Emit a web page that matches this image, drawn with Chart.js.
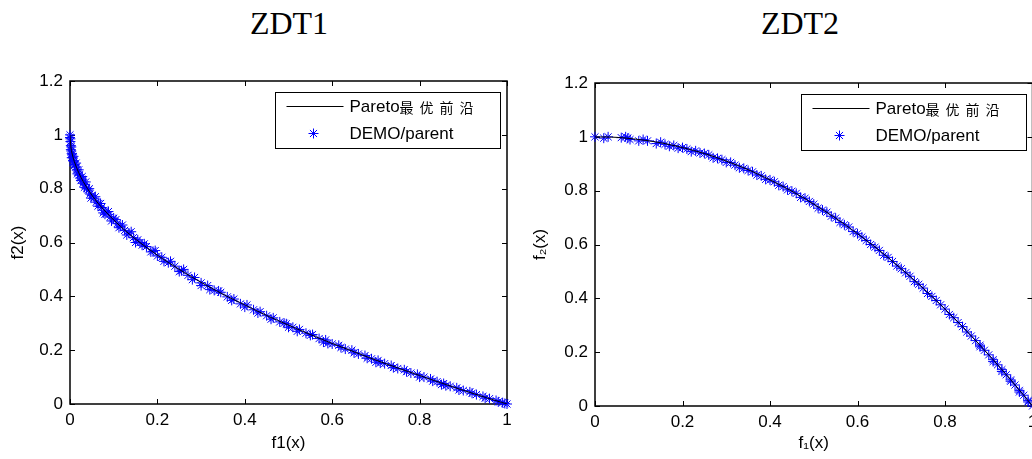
<!DOCTYPE html>
<html>
<head>
<meta charset="utf-8">
<script src="https://cdn.jsdelivr.net/npm/chart.js@4"></script>
<style>
  body { margin: 0; width: 1032px; height: 459px; overflow: hidden; background: #fff; position: relative; }
  .ttl { position: absolute; top: 7px; width: 200px; text-align: center; font: 32px/32px "Liberation Serif", serif; color: #000; }
  canvas { position: absolute; }
</style>
</head>
<body>
<div class="ttl" style="left:189px">ZDT1</div>
<div class="ttl" style="left:700px">ZDT2</div>
<canvas id="c1" width="520" height="399" style="left:0;top:60px"></canvas>
<canvas id="c2" width="540" height="399" style="left:520px;top:60px"></canvas>
<script>
// legend + axis labels
const legendLabels = ['Pareto最优前沿', 'DEMO/parent'];
const xTitles = ['f1(x)', 'f₁(x)'];
const yTitles = ['f2(x)', 'f₂(x)'];

// ZDT1 pareto front
const front1X = [0, 0.002, 0.005, 0.01, 0.02, 0.03, 0.05, 0.07, 0.1, 0.13, 0.16, 0.2, 0.25, 0.3, 0.35, 0.4, 0.45, 0.5, 0.55, 0.6, 0.65, 0.7, 0.75, 0.8, 0.85, 0.9, 0.95, 1];
const front1Y = [1, 0.955, 0.929, 0.9, 0.859, 0.827, 0.776, 0.735, 0.684, 0.639, 0.6, 0.553, 0.5, 0.452, 0.408, 0.368, 0.329, 0.293, 0.258, 0.225, 0.194, 0.163, 0.134, 0.106, 0.078, 0.051, 0.025, 0];

// ZDT1 DEMO/parent stars
const demo1X = [0, 0, 0.001, 0.002, 0.002, 0.003, 0.004, 0.005, 0.006, 0.007, 0.009, 0.011, 0.013, 0.016, 0.018, 0.021, 0.024, 0.027, 0.03, 0.034, 0.038, 0.042, 0.046, 0.05, 0.055, 0.06, 0.066, 0.072, 0.078, 0.08, 0.085, 0.092, 0.1, 0.108, 0.116, 0.125, 0.135, 0.145, 0.15, 0.155, 0.165, 0.175, 0.19, 0.2, 0.21, 0.225, 0.24, 0.255, 0.27, 0.285, 0.3, 0.3, 0.315, 0.33, 0.345, 0.36, 0.375, 0.39, 0.405, 0.42, 0.435, 0.45, 0.465, 0.48, 0.495, 0.5, 0.51, 0.525, 0.54, 0.555, 0.57, 0.58, 0.585, 0.6, 0.615, 0.63, 0.645, 0.66, 0.675, 0.69, 0.7, 0.705, 0.72, 0.735, 0.75, 0.765, 0.78, 0.795, 0.81, 0.825, 0.84, 0.85, 0.855, 0.87, 0.885, 0.9, 0.915, 0.93, 0.945, 0.96, 0.975, 0.99, 0.995, 1,
  0.001, 0.003, 0.004, 0.008, 0.01, 0.014, 0.017, 0.02, 0.025, 0.028, 0.033, 0.036, 0.044, 0.048, 0.058, 0.064, 0.07, 0.076, 0.088, 0.095, 0.105, 0.112, 0.12, 0.13, 0.14, 0.16, 0.17, 0.185, 0.195, 0.215, 0.23, 0.25, 0.26, 0.28, 0.32, 0.34, 0.37, 0.4, 0.43, 0.46, 0.49, 0.52, 0.55, 0.59, 0.62, 0.65, 0.68, 0.71, 0.74, 0.77, 0.8, 0.83, 0.86, 0.89, 0.92, 0.95, 0.98];
const demo1Y = [1, 0.99, 0.975, 0.96, 0.945, 0.94, 0.93, 0.925, 0.915, 0.905, 0.9, 0.89, 0.88, 0.87, 0.862, 0.85, 0.84, 0.835, 0.82, 0.815, 0.8, 0.795, 0.78, 0.775, 0.765, 0.75, 0.745, 0.73, 0.72, 0.705, 0.71, 0.695, 0.69, 0.67, 0.66, 0.645, 0.635, 0.618, 0.6, 0.61, 0.59, 0.585, 0.567, 0.55, 0.545, 0.525, 0.512, 0.495, 0.478, 0.47, 0.45, 0.44, 0.44, 0.422, 0.415, 0.398, 0.39, 0.372, 0.368, 0.35, 0.343, 0.328, 0.32, 0.305, 0.298, 0.285, 0.285, 0.277, 0.263, 0.258, 0.243, 0.23, 0.238, 0.223, 0.218, 0.204, 0.2, 0.186, 0.18, 0.168, 0.155, 0.162, 0.15, 0.143, 0.132, 0.127, 0.115, 0.11, 0.1, 0.093, 0.083, 0.072, 0.076, 0.066, 0.06, 0.05, 0.045, 0.035, 0.028, 0.02, 0.013, 0.005, 0.002, 0,
  0.985, 0.955, 0.915, 0.92, 0.885, 0.895, 0.855, 0.87, 0.83, 0.845, 0.805, 0.825, 0.8, 0.765, 0.77, 0.735, 0.745, 0.71, 0.715, 0.68, 0.685, 0.655, 0.665, 0.628, 0.64, 0.6, 0.595, 0.565, 0.57, 0.53, 0.53, 0.492, 0.5, 0.462, 0.425, 0.42, 0.385, 0.36, 0.338, 0.315, 0.3, 0.27, 0.255, 0.225, 0.21, 0.19, 0.17, 0.152, 0.135, 0.12, 0.1, 0.085, 0.068, 0.052, 0.04, 0.022, 0.008];

// ZDT2 pareto front
const front2X = [0, 0.05, 0.1, 0.15, 0.2, 0.25, 0.3, 0.35, 0.4, 0.45, 0.5, 0.55, 0.6, 0.65, 0.7, 0.75, 0.8, 0.85, 0.9, 0.95, 1];
const front2Y = [1, 0.998, 0.99, 0.978, 0.96, 0.938, 0.91, 0.878, 0.84, 0.798, 0.75, 0.698, 0.64, 0.578, 0.51, 0.438, 0.36, 0.278, 0.19, 0.098, 0];

// ZDT2 DEMO/parent stars
const demo2X = [0, 0.03, 0.06, 0.075, 0.08, 0.11, 0.12, 0.15, 0.16, 0.18, 0.2, 0.21, 0.23, 0.25, 0.26, 0.28, 0.29, 0.31, 0.32, 0.34, 0.36, 0.38, 0.4, 0.41, 0.43, 0.45, 0.46, 0.48, 0.49, 0.5, 0.52, 0.53, 0.55, 0.57, 0.58, 0.6, 0.61, 0.62, 0.64, 0.65, 0.67, 0.68, 0.7, 0.71, 0.72, 0.74, 0.75, 0.77, 0.78, 0.79, 0.8, 0.82, 0.83, 0.84, 0.86, 0.87, 0.88, 0.89, 0.9, 0.91, 0.92, 0.93, 0.94, 0.95, 0.96, 0.97, 0.98, 0.99, 1,
  0.02, 0.07, 0.1, 0.14, 0.17, 0.19, 0.22, 0.24, 0.27, 0.3, 0.33, 0.35, 0.37, 0.39, 0.42, 0.44, 0.47, 0.51, 0.54, 0.56, 0.59, 0.63, 0.66, 0.69, 0.73, 0.76, 0.81, 0.85, 0.88, 0.91, 0.93, 0.95, 0.97, 0.99];
const demo2Y = [1, 1, 0.997, 0.995, 0.99, 0.99, 0.985, 0.98, 0.972, 0.968, 0.96, 0.955, 0.948, 0.938, 0.933, 0.92, 0.915, 0.905, 0.895, 0.883, 0.87, 0.855, 0.84, 0.833, 0.815, 0.798, 0.79, 0.772, 0.76, 0.75, 0.728, 0.72, 0.698, 0.673, 0.665, 0.64, 0.628, 0.615, 0.59, 0.578, 0.552, 0.537, 0.51, 0.495, 0.482, 0.452, 0.438, 0.407, 0.392, 0.376, 0.36, 0.328, 0.31, 0.295, 0.26, 0.243, 0.226, 0.207, 0.19, 0.172, 0.153, 0.135, 0.116, 0.097, 0.078, 0.058, 0.04, 0.02, 0,
  0.995, 1, 0.985, 0.975, 0.965, 0.958, 0.945, 0.94, 0.922, 0.905, 0.885, 0.875, 0.858, 0.842, 0.82, 0.803, 0.775, 0.735, 0.705, 0.682, 0.648, 0.6, 0.56, 0.52, 0.462, 0.418, 0.34, 0.275, 0.22, 0.165, 0.128, 0.092, 0.052, 0.015];

const xTicks = [0, 0.2, 0.4, 0.6, 0.8, 1];
const yTicks = [0, 0.2, 0.4, 0.6, 0.8, 1, 1.2];

function pts(xs, ys) {
  return xs.map((x, i) => ({ x: x, y: ys[i] }));
}

// matlab prints 1 not 1.0
function tickText(v) {
  return String(Math.round(v * 10) / 10);
}

const FONT = '"Liberation Sans", Arial, sans-serif';

// matlab style box with inward ticks, plus the legend in the upper right corner
const matlabBox = {
  id: 'matlabBox',
  beforeDatasetsDraw(chart) {
    const { ctx, chartArea: a, scales } = chart;
    ctx.save();
    ctx.strokeStyle = '#000';
    ctx.lineWidth = 1;
    const len = 5;
    ctx.beginPath();
    xTicks.forEach(v => {
      const px = Math.round(scales.x.getPixelForValue(v)) + 0.5;
      ctx.moveTo(px, a.bottom); ctx.lineTo(px, a.bottom - len);
      ctx.moveTo(px, a.top); ctx.lineTo(px, a.top + len);
    });
    yTicks.forEach(v => {
      const py = Math.round(scales.y.getPixelForValue(v)) + 0.5;
      ctx.moveTo(a.left, py); ctx.lineTo(a.left + len, py);
      ctx.moveTo(a.right, py); ctx.lineTo(a.right - len, py);
    });
    ctx.stroke();
    ctx.lineWidth = 1.5;
    ctx.strokeRect(a.left, a.top, a.right - a.left, a.bottom - a.top);
    ctx.restore();
  },
  afterDraw(chart) {
    const { ctx, chartArea: a } = chart;
    const w = 225, h = 56;
    const x0 = Math.round(a.right - 7 - w) + 0.5, y0 = Math.round(a.top + 11) + 0.5;
    ctx.save();
    ctx.fillStyle = '#fff';
    ctx.fillRect(x0, y0, w, h);
    ctx.strokeStyle = '#000';
    ctx.lineWidth = 1;
    ctx.strokeRect(x0, y0, w, h);
    // line sample
    ctx.beginPath();
    ctx.moveTo(x0 + 11, y0 + 14); ctx.lineTo(x0 + 68, y0 + 14);
    ctx.stroke();
    // star sample
    ctx.strokeStyle = '#0000ff';
    Chart.helpers.drawPoint(ctx, { pointStyle: 'star', radius: 5, borderWidth: 1, rotation: 0 }, x0 + 38, y0 + 41);
    // texts
    ctx.fillStyle = '#000';
    ctx.textBaseline = 'middle';
    let tx = x0 + 74;
    for (const ch of legendLabels[0]) {
      if (ch.charCodeAt(0) > 255) {
        ctx.font = '14px "Noto Sans CJK SC", sans-serif';
        ctx.fillText(ch, tx, y0 + 15);
        tx += 20;
      } else {
        ctx.font = '17px ' + FONT;
        ctx.fillText(ch, tx, y0 + 15);
        tx += ctx.measureText(ch).width;
      }
    }
    ctx.font = '17px ' + FONT;
    ctx.fillText(legendLabels[1], x0 + 74, y0 + 42);
    ctx.restore();
  }
};

function makeChart(id, frontX, frontY, demoX, demoY, xTitle, yTitle, dims) {
  return new Chart(document.getElementById(id), {
    type: 'scatter',
    data: {
      datasets: [
        {
          label: legendLabels[0],
          data: pts(frontX, frontY),
          showLine: true,
          borderColor: '#000',
          borderWidth: 1,
          pointRadius: 0,
          tension: 0.3
        },
        {
          label: legendLabels[1],
          data: pts(demoX, demoY),
          pointStyle: 'star',
          pointRadius: 5,
          borderColor: '#0000ff',
          borderWidth: 1,
          backgroundColor: '#0000ff',
          clip: false
        }
      ]
    },
    options: {
      responsive: false,
      animation: false,
      events: [],
      layout: { padding: { left: 0, top: dims.top, right: dims.right, bottom: 0 } },
      plugins: { legend: { display: false }, tooltip: { enabled: false } },
      scales: {
        x: {
          type: 'linear', min: 0, max: 1,
          grid: { display: false, drawTicks: false },
          border: { display: false },
          afterBuildTicks: s => { s.ticks = xTicks.map(v => ({ value: v })); },
          afterFit: s => { s.height = dims.xh; s.paddingLeft = 0; s.paddingRight = 0; },
          ticks: { color: '#000', padding: 6, maxRotation: 0, autoSkip: false, callback: tickText, font: { size: 17, family: FONT } },
          title: { display: true, text: xTitle, color: '#000', padding: { top: 0, bottom: 5 }, font: { size: 17, family: FONT } }
        },
        y: {
          type: 'linear', min: 0, max: 1.2,
          grid: { display: false, drawTicks: false },
          border: { display: false },
          afterBuildTicks: s => { s.ticks = yTicks.map(v => ({ value: v })); },
          afterFit: s => { s.width = dims.yw; s.paddingTop = 0; s.paddingBottom = 0; },
          ticks: { color: '#000', padding: 7, autoSkip: false, callback: tickText, font: { size: 17, family: FONT } },
          title: { display: true, text: yTitle, color: '#000', padding: { top: dims.yt, bottom: 0 }, font: { size: 17, family: FONT } }
        }
      }
    },
    plugins: [matlabBox]
  });
}

makeChart('c1', front1X, front1Y, demo1X, demo1Y, xTitles[0], yTitles[0], { top: 21, right: 13, xh: 55, yw: 70, yt: 8 });
makeChart('c2', front2X, front2Y, demo2X, demo2Y, xTitles[1], yTitles[1], { top: 23, right: 27.5, xh: 53, yw: 75, yt: 10 });
</script>
</body>
</html>
